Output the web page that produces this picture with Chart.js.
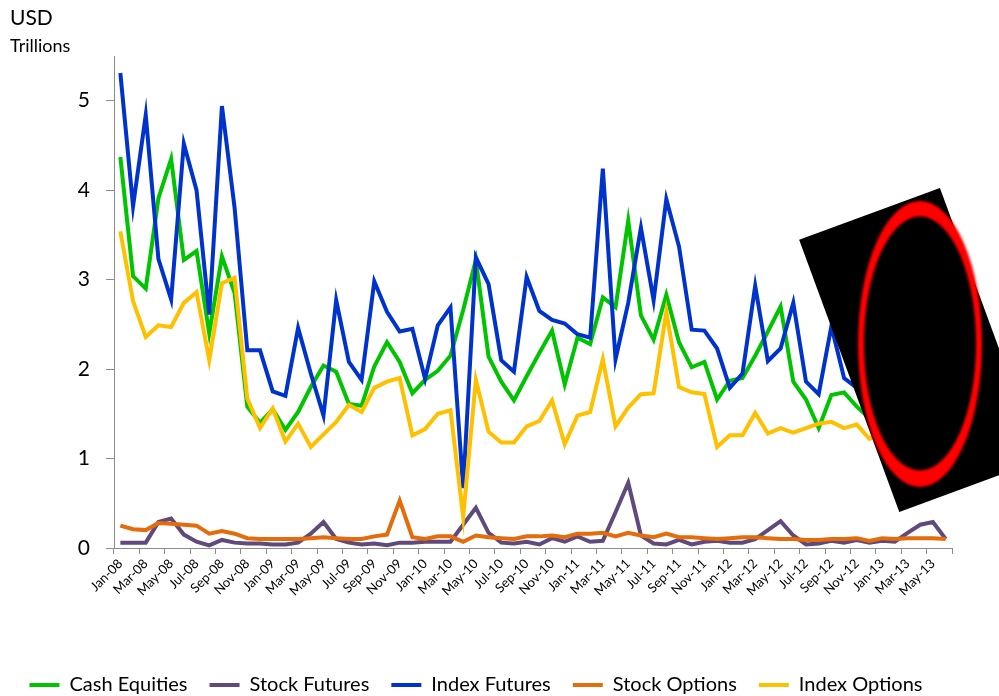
<!DOCTYPE html>
<html>
<head>
<meta charset="utf-8">
<script src="https://cdn.jsdelivr.net/npm/chart.js@4.4.0/dist/chart.umd.min.js"></script>
<style>
  html, body { margin: 0; padding: 0; background: #fff; overflow: hidden; }
  #wrap { position: relative; width: 999px; height: 696px; }
  #usd { position: absolute; left: 10px; top: 4px; font: 21px Lato, sans-serif; color: #000; }
  #tril { position: absolute; left: 10px; top: 34px; font: 18px Lato, sans-serif; color: #000; }
</style>
</head>
<body>
<div id="wrap">
  <canvas id="chart" width="999" height="696"></canvas>
  <div id="usd">USD</div>
  <div id="tril">Trillions</div>
</div>
<script>
const months = [
  'Jan-08','Feb-08','Mar-08','Apr-08','May-08','Jun-08','Jul-08','Aug-08','Sep-08','Oct-08','Nov-08','Dec-08',
  'Jan-09','Feb-09','Mar-09','Apr-09','May-09','Jun-09','Jul-09','Aug-09','Sep-09','Oct-09','Nov-09','Dec-09',
  'Jan-10','Feb-10','Mar-10','Apr-10','May-10','Jun-10','Jul-10','Aug-10','Sep-10','Oct-10','Nov-10','Dec-10',
  'Jan-11','Feb-11','Mar-11','Apr-11','May-11','Jun-11','Jul-11','Aug-11','Sep-11','Oct-11','Nov-11','Dec-11',
  'Jan-12','Feb-12','Mar-12','Apr-12','May-12','Jun-12','Jul-12','Aug-12','Sep-12','Oct-12','Nov-12','Dec-12',
  'Jan-13','Feb-13','Mar-13','Apr-13','May-13','Jun-13'
];

const cashEquities = [
  4.37, 3.04, 2.90, 3.91, 4.35, 3.22, 3.32, 2.40, 3.26, 2.85,
  1.58, 1.40, 1.55, 1.32, 1.52, 1.80, 2.04, 1.97, 1.61, 1.59,
  2.03, 2.30, 2.08, 1.73, 1.88, 1.98, 2.15, 2.66, 3.22, 2.14,
  1.86, 1.65, 1.92, 2.18, 2.43, 1.83, 2.35, 2.28, 2.80, 2.69,
  3.66, 2.60, 2.33, 2.83, 2.30, 2.02, 2.08, 1.66, 1.87, 1.90,
  2.15, 2.42, 2.70, 1.86, 1.66, 1.34, 1.71, 1.74, 1.58, 1.45,
  1.55, 1.50, 1.70, 1.85, 1.75, 1.60
];
const stockFutures = [
  0.06, 0.06, 0.06, 0.29, 0.33, 0.15, 0.07, 0.03, 0.09, 0.06,
  0.05, 0.05, 0.04, 0.04, 0.06, 0.16, 0.29, 0.10, 0.06, 0.04,
  0.05, 0.03, 0.06, 0.06, 0.07, 0.07, 0.07, 0.26, 0.45, 0.17,
  0.06, 0.05, 0.07, 0.04, 0.11, 0.07, 0.13, 0.07, 0.08, 0.40,
  0.73, 0.14, 0.05, 0.04, 0.09, 0.04, 0.07, 0.08, 0.06, 0.06,
  0.10, 0.20, 0.30, 0.14, 0.04, 0.05, 0.08, 0.06, 0.09, 0.06,
  0.08, 0.07, 0.17, 0.26, 0.29, 0.10
];
const indexFutures = [
  5.31, 3.82, 4.84, 3.23, 2.78, 4.52, 4.00, 2.61, 4.94, 3.80,
  2.21, 2.21, 1.75, 1.70, 2.46, 1.95, 1.48, 2.77, 2.08, 1.88,
  2.98, 2.64, 2.42, 2.45, 1.89, 2.49, 2.69, 0.67, 3.25, 2.95,
  2.10, 1.97, 3.03, 2.65, 2.55, 2.51, 2.39, 2.35, 4.24, 2.11,
  2.74, 3.58, 2.77, 3.90, 3.37, 2.44, 2.43, 2.23, 1.79, 1.95,
  2.93, 2.09, 2.23, 2.74, 1.86, 1.72, 2.48, 1.90, 1.79, 1.65,
  2.20, 2.05, 2.15, 2.45, 2.35, 2.05
];
const stockOptions = [
  0.25, 0.21, 0.20, 0.28, 0.27, 0.26, 0.25, 0.16, 0.19, 0.16,
  0.11, 0.10, 0.10, 0.10, 0.10, 0.11, 0.12, 0.11, 0.10, 0.10,
  0.13, 0.15, 0.53, 0.12, 0.10, 0.13, 0.13, 0.07, 0.14, 0.12,
  0.11, 0.10, 0.13, 0.13, 0.14, 0.12, 0.16, 0.16, 0.17, 0.13,
  0.17, 0.14, 0.12, 0.16, 0.12, 0.12, 0.11, 0.10, 0.11, 0.12,
  0.12, 0.11, 0.10, 0.10, 0.09, 0.09, 0.10, 0.10, 0.11, 0.08,
  0.11, 0.10, 0.11, 0.11, 0.11, 0.10
];
const indexOptions = [
  3.54, 2.76, 2.36, 2.49, 2.47, 2.74, 2.86, 2.10, 2.96, 3.02,
  1.67, 1.34, 1.56, 1.19, 1.39, 1.13, 1.27, 1.41, 1.60, 1.52,
  1.79, 1.86, 1.90, 1.26, 1.33, 1.50, 1.54, 0.35, 1.88, 1.30,
  1.18, 1.18, 1.36, 1.42, 1.65, 1.16, 1.48, 1.52, 2.11, 1.36,
  1.57, 1.72, 1.73, 2.64, 1.80, 1.74, 1.72, 1.13, 1.26, 1.26,
  1.51, 1.28, 1.34, 1.29, 1.34, 1.39, 1.41, 1.34, 1.38, 1.22,
  1.28, 1.25, 1.32, 1.38, 1.30, 1.25
];

const axisGray = '#8c8c8c';

function series(label, data, color, order) {
  return {
    label: label,
    data: data,
    borderColor: color,
    backgroundColor: color,
    borderWidth: 4,
    pointRadius: 0,
    tension: 0,
    order: order
  };
}

// black panel with red ring sitting over the right side of the plot
const occluder = {
  id: 'occluder',
  afterDraw(chart) {
    const c = chart.ctx;
    c.save();
    c.translate(919.6, 350);
    c.rotate(-20.2 * Math.PI / 180);
    c.fillStyle = '#000';
    c.fillRect(-75, -145, 150, 290);
    c.restore();

    c.save();
    c.filter = 'blur(1px)';
    c.fillStyle = '#ff0000';
    c.beginPath();
    c.ellipse(920, 344, 62, 143, 0, 0, 2 * Math.PI);
    c.fill();
    c.fillStyle = '#000';
    c.beginPath();
    c.ellipse(920, 343.5, 56, 127, 0, 0, 2 * Math.PI);
    c.fill();
    c.restore();
  }
};

new Chart(document.getElementById('chart'), {
  type: 'line',
  data: {
    labels: months,
    datasets: [
      series('Cash Equities', cashEquities, '#00c400', 5),
      series('Stock Futures', stockFutures, '#604a7b', 4),
      series('Index Futures', indexFutures, '#0033cc', 3),
      series('Stock Options', stockOptions, '#e46c0a', 2),
      series('Index Options', indexOptions, '#ffc000', 1)
    ]
  },
  options: {
    responsive: false,
    animation: false,
    layout: { padding: { left: 0, right: 47, top: 56, bottom: -9 } },
    scales: {
      x: {
        offset: true,
        grid: {
          offset: true,
          drawOnChartArea: false,
          tickLength: 6,
          color: ctx => (ctx.index === undefined || ctx.index % 2 === 0) ? axisGray : 'rgba(0,0,0,0)'
        },
        border: { color: axisGray, width: 1 },
        ticks: {
          autoSkip: false,
          maxRotation: 45,
          minRotation: 45,
          padding: 2,
          color: '#000',
          font: { family: 'Lato', size: 13 },
          callback: (v, i) => i % 2 === 0 ? months[i] : ''
        },
        afterFit: s => { s.height = 105; }
      },
      y: {
        min: 0,
        max: 5.5,
        grid: { drawOnChartArea: false, tickLength: 8, color: axisGray },
        border: { color: axisGray, width: 1 },
        ticks: { stepSize: 1, padding: 16, color: '#000', font: { family: 'Lato', size: 21 } },
        afterBuildTicks: s => { s.ticks = s.ticks.filter(t => Number.isInteger(t.value)); },
        afterFit: s => { s.width = 114; }
      }
    },
    plugins: {
      legend: {
        position: 'bottom',
        labels: {
          boxWidth: 30,
          boxHeight: 4,
          padding: 22,
          color: '#000',
          font: { family: 'Lato', size: 20 },
          sort: (a, b) => a.datasetIndex - b.datasetIndex,
          generateLabels: chart => Chart.defaults.plugins.legend.labels.generateLabels(chart)
            .map(l => Object.assign(l, { lineWidth: 0 }))
        }
      },
      tooltip: { enabled: false }
    }
  },
  plugins: [occluder]
});
</script>
</body>
</html>
